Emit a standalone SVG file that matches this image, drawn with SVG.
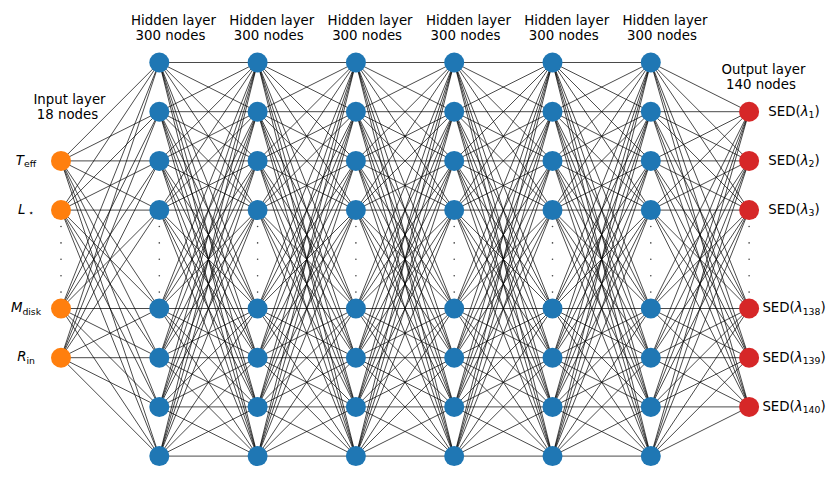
<svg xmlns="http://www.w3.org/2000/svg" xmlns:xlink="http://www.w3.org/1999/xlink" width="831" height="477" viewBox="0 0 831 477">
<style>
.e path{stroke:#000;stroke-opacity:.75;stroke-width:.95;fill:none}
.in{fill:#ff7f0e}
.hid{fill:#1f77b4}
.out{fill:#d62728}
.dot{fill:#000;fill-opacity:.75}
text{font-family:"DejaVu Sans","Liberation Sans",sans-serif;font-size:13.33px;fill:#000}
.m{text-anchor:middle}
.it{font-style:italic}
.sub{font-size:9.3px}
</style>
<defs>
<g id="ih" class="e">
<path d="M0 160.9L98.3 62.5"/><path d="M0 160.9L98.3 111.7"/><path d="M0 160.9L98.3 160.9"/><path d="M0 160.9L98.3 210.1"/><path d="M0 160.9L98.3 308.5"/><path d="M0 160.9L98.3 357.7"/><path d="M0 160.9L98.3 406.9"/><path d="M0 160.9L98.3 456.1"/>
<path d="M0 210.1L98.3 62.5"/><path d="M0 210.1L98.3 111.7"/><path d="M0 210.1L98.3 160.9"/><path d="M0 210.1L98.3 210.1"/><path d="M0 210.1L98.3 308.5"/><path d="M0 210.1L98.3 357.7"/><path d="M0 210.1L98.3 406.9"/><path d="M0 210.1L98.3 456.1"/>
<path d="M0 308.5L98.3 62.5"/><path d="M0 308.5L98.3 111.7"/><path d="M0 308.5L98.3 160.9"/><path d="M0 308.5L98.3 210.1"/><path d="M0 308.5L98.3 308.5"/><path d="M0 308.5L98.3 357.7"/><path d="M0 308.5L98.3 406.9"/><path d="M0 308.5L98.3 456.1"/>
<path d="M0 357.7L98.3 62.5"/><path d="M0 357.7L98.3 111.7"/><path d="M0 357.7L98.3 160.9"/><path d="M0 357.7L98.3 210.1"/><path d="M0 357.7L98.3 308.5"/><path d="M0 357.7L98.3 357.7"/><path d="M0 357.7L98.3 406.9"/><path d="M0 357.7L98.3 456.1"/>
</g>
<g id="hh" class="e">
<path d="M0 62.5L98.3 62.5"/><path d="M0 62.5L98.3 111.7"/><path d="M0 62.5L98.3 160.9"/><path d="M0 62.5L98.3 210.1"/><path d="M0 62.5L98.3 308.5"/><path d="M0 62.5L98.3 357.7"/><path d="M0 62.5L98.3 406.9"/><path d="M0 62.5L98.3 456.1"/>
<path d="M0 111.7L98.3 62.5"/><path d="M0 111.7L98.3 111.7"/><path d="M0 111.7L98.3 160.9"/><path d="M0 111.7L98.3 210.1"/><path d="M0 111.7L98.3 308.5"/><path d="M0 111.7L98.3 357.7"/><path d="M0 111.7L98.3 406.9"/><path d="M0 111.7L98.3 456.1"/>
<path d="M0 160.9L98.3 62.5"/><path d="M0 160.9L98.3 111.7"/><path d="M0 160.9L98.3 160.9"/><path d="M0 160.9L98.3 210.1"/><path d="M0 160.9L98.3 308.5"/><path d="M0 160.9L98.3 357.7"/><path d="M0 160.9L98.3 406.9"/><path d="M0 160.9L98.3 456.1"/>
<path d="M0 210.1L98.3 62.5"/><path d="M0 210.1L98.3 111.7"/><path d="M0 210.1L98.3 160.9"/><path d="M0 210.1L98.3 210.1"/><path d="M0 210.1L98.3 308.5"/><path d="M0 210.1L98.3 357.7"/><path d="M0 210.1L98.3 406.9"/><path d="M0 210.1L98.3 456.1"/>
<path d="M0 308.5L98.3 62.5"/><path d="M0 308.5L98.3 111.7"/><path d="M0 308.5L98.3 160.9"/><path d="M0 308.5L98.3 210.1"/><path d="M0 308.5L98.3 308.5"/><path d="M0 308.5L98.3 357.7"/><path d="M0 308.5L98.3 406.9"/><path d="M0 308.5L98.3 456.1"/>
<path d="M0 357.7L98.3 62.5"/><path d="M0 357.7L98.3 111.7"/><path d="M0 357.7L98.3 160.9"/><path d="M0 357.7L98.3 210.1"/><path d="M0 357.7L98.3 308.5"/><path d="M0 357.7L98.3 357.7"/><path d="M0 357.7L98.3 406.9"/><path d="M0 357.7L98.3 456.1"/>
<path d="M0 406.9L98.3 62.5"/><path d="M0 406.9L98.3 111.7"/><path d="M0 406.9L98.3 160.9"/><path d="M0 406.9L98.3 210.1"/><path d="M0 406.9L98.3 308.5"/><path d="M0 406.9L98.3 357.7"/><path d="M0 406.9L98.3 406.9"/><path d="M0 406.9L98.3 456.1"/>
<path d="M0 456.1L98.3 62.5"/><path d="M0 456.1L98.3 111.7"/><path d="M0 456.1L98.3 160.9"/><path d="M0 456.1L98.3 210.1"/><path d="M0 456.1L98.3 308.5"/><path d="M0 456.1L98.3 357.7"/><path d="M0 456.1L98.3 406.9"/><path d="M0 456.1L98.3 456.1"/>
</g>
<g id="ho" class="e">
<path d="M0 62.5L98.3 111.7"/><path d="M0 62.5L98.3 160.9"/><path d="M0 62.5L98.3 210.1"/><path d="M0 62.5L98.3 308.5"/><path d="M0 62.5L98.3 357.7"/><path d="M0 62.5L98.3 406.9"/>
<path d="M0 111.7L98.3 111.7"/><path d="M0 111.7L98.3 160.9"/><path d="M0 111.7L98.3 210.1"/><path d="M0 111.7L98.3 308.5"/><path d="M0 111.7L98.3 357.7"/><path d="M0 111.7L98.3 406.9"/>
<path d="M0 160.9L98.3 111.7"/><path d="M0 160.9L98.3 160.9"/><path d="M0 160.9L98.3 210.1"/><path d="M0 160.9L98.3 308.5"/><path d="M0 160.9L98.3 357.7"/><path d="M0 160.9L98.3 406.9"/>
<path d="M0 210.1L98.3 111.7"/><path d="M0 210.1L98.3 160.9"/><path d="M0 210.1L98.3 210.1"/><path d="M0 210.1L98.3 308.5"/><path d="M0 210.1L98.3 357.7"/><path d="M0 210.1L98.3 406.9"/>
<path d="M0 308.5L98.3 111.7"/><path d="M0 308.5L98.3 160.9"/><path d="M0 308.5L98.3 210.1"/><path d="M0 308.5L98.3 308.5"/><path d="M0 308.5L98.3 357.7"/><path d="M0 308.5L98.3 406.9"/>
<path d="M0 357.7L98.3 111.7"/><path d="M0 357.7L98.3 160.9"/><path d="M0 357.7L98.3 210.1"/><path d="M0 357.7L98.3 308.5"/><path d="M0 357.7L98.3 357.7"/><path d="M0 357.7L98.3 406.9"/>
<path d="M0 406.9L98.3 111.7"/><path d="M0 406.9L98.3 160.9"/><path d="M0 406.9L98.3 210.1"/><path d="M0 406.9L98.3 308.5"/><path d="M0 406.9L98.3 357.7"/><path d="M0 406.9L98.3 406.9"/>
<path d="M0 456.1L98.3 111.7"/><path d="M0 456.1L98.3 160.9"/><path d="M0 456.1L98.3 210.1"/><path d="M0 456.1L98.3 308.5"/><path d="M0 456.1L98.3 357.7"/><path d="M0 456.1L98.3 406.9"/>
</g>
<g id="vdots" class="dot">
<circle cx="0" cy="226.5" r="0.8"/><circle cx="0" cy="242.9" r="0.8"/><circle cx="0" cy="259.3" r="0.8"/><circle cx="0" cy="275.7" r="0.8"/><circle cx="0" cy="292.1" r="0.8"/>
</g>
</defs>
<rect width="831" height="477" fill="#fff"/>
<g id="connectors">
<use xlink:href="#ih" x="61"/>
<use xlink:href="#hh" x="159.3"/>
<use xlink:href="#hh" x="257.6"/>
<use xlink:href="#hh" x="355.9"/>
<use xlink:href="#hh" x="454.2"/>
<use xlink:href="#hh" x="552.5"/>
<use xlink:href="#ho" x="650.8"/>
</g>
<g id="ellipses">
<use xlink:href="#vdots" x="61"/>
<use xlink:href="#vdots" x="159.3"/>
<use xlink:href="#vdots" x="257.6"/>
<use xlink:href="#vdots" x="355.9"/>
<use xlink:href="#vdots" x="454.2"/>
<use xlink:href="#vdots" x="552.5"/>
<use xlink:href="#vdots" x="650.8"/>
<use xlink:href="#vdots" x="749.1"/>
</g>
<g id="layer-titles">
<text class="m" x="69.5" y="104">Input layer</text><text class="m" x="67.5" y="118.5">18 nodes</text>
<text class="m" x="173.5" y="25">Hidden layer</text><text class="m" x="170.5" y="40">300 nodes</text>
<text class="m" x="271.8" y="25">Hidden layer</text><text class="m" x="268.8" y="40">300 nodes</text>
<text class="m" x="370.1" y="25">Hidden layer</text><text class="m" x="367.1" y="40">300 nodes</text>
<text class="m" x="468.4" y="25">Hidden layer</text><text class="m" x="465.4" y="40">300 nodes</text>
<text class="m" x="566.7" y="25">Hidden layer</text><text class="m" x="563.7" y="40">300 nodes</text>
<text class="m" x="665" y="25">Hidden layer</text><text class="m" x="662" y="40">300 nodes</text>
<text class="m" x="763.5" y="74">Output layer</text><text class="m" x="761" y="88.5">140 nodes</text>
</g>
<g id="input-Teff"><circle class="in" cx="61" cy="160.9" r="10"/><text class="m" x="26" y="164.5"><tspan class="it">T</tspan><tspan class="sub" dy="2.5">eff</tspan></text></g>
<g id="input-Lstar"><circle class="in" cx="61" cy="210.1" r="10"/><text class="m" x="26" y="213.7"><tspan class="it">L</tspan><tspan class="sub" dy="2.5"> ⋆</tspan></text></g>
<g id="input-Mdisk"><circle class="in" cx="61" cy="308.5" r="10"/><text class="m" x="26" y="312.1"><tspan class="it">M</tspan><tspan class="sub" dy="2.5">disk</tspan></text></g>
<g id="input-Rin"><circle class="in" cx="61" cy="357.7" r="10"/><text class="m" x="26" y="361.3"><tspan class="it">R</tspan><tspan class="sub" dy="2.5">in</tspan></text></g>
<g id="hidden1">
<circle class="hid" cx="159.3" cy="62.5" r="10"/><circle class="hid" cx="159.3" cy="111.7" r="10"/><circle class="hid" cx="159.3" cy="160.9" r="10"/><circle class="hid" cx="159.3" cy="210.1" r="10"/><circle class="hid" cx="159.3" cy="308.5" r="10"/><circle class="hid" cx="159.3" cy="357.7" r="10"/><circle class="hid" cx="159.3" cy="406.9" r="10"/><circle class="hid" cx="159.3" cy="456.1" r="10"/>
</g>
<g id="hidden2">
<circle class="hid" cx="257.6" cy="62.5" r="10"/><circle class="hid" cx="257.6" cy="111.7" r="10"/><circle class="hid" cx="257.6" cy="160.9" r="10"/><circle class="hid" cx="257.6" cy="210.1" r="10"/><circle class="hid" cx="257.6" cy="308.5" r="10"/><circle class="hid" cx="257.6" cy="357.7" r="10"/><circle class="hid" cx="257.6" cy="406.9" r="10"/><circle class="hid" cx="257.6" cy="456.1" r="10"/>
</g>
<g id="hidden3">
<circle class="hid" cx="355.9" cy="62.5" r="10"/><circle class="hid" cx="355.9" cy="111.7" r="10"/><circle class="hid" cx="355.9" cy="160.9" r="10"/><circle class="hid" cx="355.9" cy="210.1" r="10"/><circle class="hid" cx="355.9" cy="308.5" r="10"/><circle class="hid" cx="355.9" cy="357.7" r="10"/><circle class="hid" cx="355.9" cy="406.9" r="10"/><circle class="hid" cx="355.9" cy="456.1" r="10"/>
</g>
<g id="hidden4">
<circle class="hid" cx="454.2" cy="62.5" r="10"/><circle class="hid" cx="454.2" cy="111.7" r="10"/><circle class="hid" cx="454.2" cy="160.9" r="10"/><circle class="hid" cx="454.2" cy="210.1" r="10"/><circle class="hid" cx="454.2" cy="308.5" r="10"/><circle class="hid" cx="454.2" cy="357.7" r="10"/><circle class="hid" cx="454.2" cy="406.9" r="10"/><circle class="hid" cx="454.2" cy="456.1" r="10"/>
</g>
<g id="hidden5">
<circle class="hid" cx="552.5" cy="62.5" r="10"/><circle class="hid" cx="552.5" cy="111.7" r="10"/><circle class="hid" cx="552.5" cy="160.9" r="10"/><circle class="hid" cx="552.5" cy="210.1" r="10"/><circle class="hid" cx="552.5" cy="308.5" r="10"/><circle class="hid" cx="552.5" cy="357.7" r="10"/><circle class="hid" cx="552.5" cy="406.9" r="10"/><circle class="hid" cx="552.5" cy="456.1" r="10"/>
</g>
<g id="hidden6">
<circle class="hid" cx="650.8" cy="62.5" r="10"/><circle class="hid" cx="650.8" cy="111.7" r="10"/><circle class="hid" cx="650.8" cy="160.9" r="10"/><circle class="hid" cx="650.8" cy="210.1" r="10"/><circle class="hid" cx="650.8" cy="308.5" r="10"/><circle class="hid" cx="650.8" cy="357.7" r="10"/><circle class="hid" cx="650.8" cy="406.9" r="10"/><circle class="hid" cx="650.8" cy="456.1" r="10"/>
</g>
<g id="output-1"><circle class="out" cx="749.1" cy="111.7" r="10"/><text class="m" x="794" y="115.5">SED(<tspan class="it">λ</tspan><tspan class="sub" dy="2.5">1</tspan><tspan dy="-2.5">)</tspan></text></g>
<g id="output-2"><circle class="out" cx="749.1" cy="160.9" r="10"/><text class="m" x="794" y="164.7">SED(<tspan class="it">λ</tspan><tspan class="sub" dy="2.5">2</tspan><tspan dy="-2.5">)</tspan></text></g>
<g id="output-3"><circle class="out" cx="749.1" cy="210.1" r="10"/><text class="m" x="794" y="213.9">SED(<tspan class="it">λ</tspan><tspan class="sub" dy="2.5">3</tspan><tspan dy="-2.5">)</tspan></text></g>
<g id="output-138"><circle class="out" cx="749.1" cy="308.5" r="10"/><text class="m" x="794" y="312.3">SED(<tspan class="it">λ</tspan><tspan class="sub" dy="2.5">138</tspan><tspan dy="-2.5">)</tspan></text></g>
<g id="output-139"><circle class="out" cx="749.1" cy="357.7" r="10"/><text class="m" x="794" y="361.5">SED(<tspan class="it">λ</tspan><tspan class="sub" dy="2.5">139</tspan><tspan dy="-2.5">)</tspan></text></g>
<g id="output-140"><circle class="out" cx="749.1" cy="406.9" r="10"/><text class="m" x="794" y="410.7">SED(<tspan class="it">λ</tspan><tspan class="sub" dy="2.5">140</tspan><tspan dy="-2.5">)</tspan></text></g>
</svg>
